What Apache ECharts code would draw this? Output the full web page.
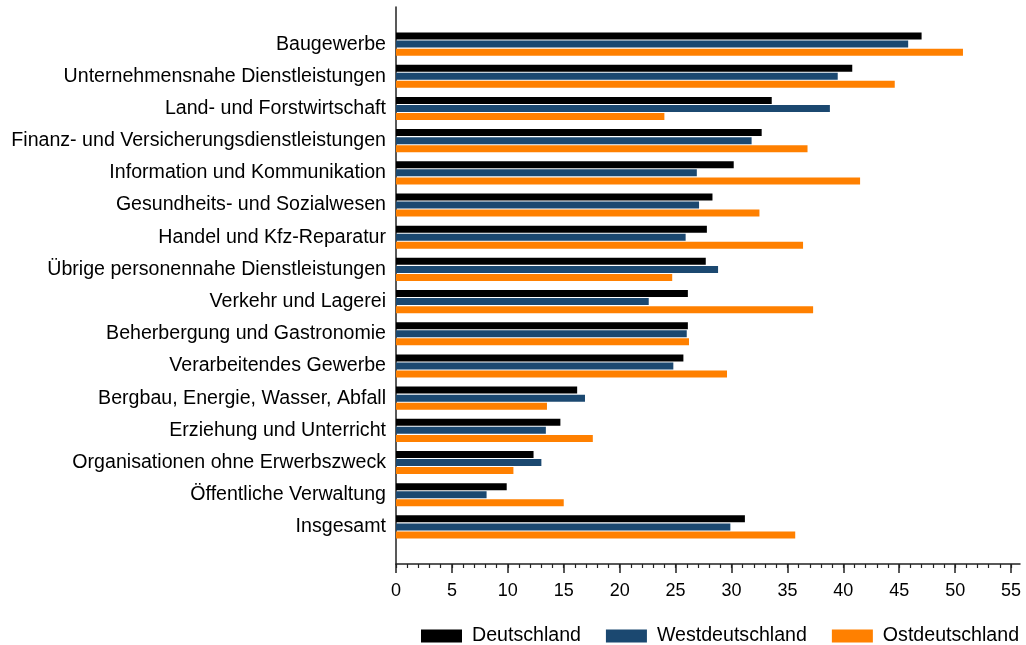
<!DOCTYPE html>
<html>
<head>
<meta charset="utf-8">
<script src="https://cdn.jsdelivr.net/npm/echarts@6/dist/echarts.min.js"></script>
<style>
  html, body { margin: 0; padding: 0; background: #fff; }
  #chart { width: 1026px; height: 645px; }
</style>
</head>
<body>
<div id="chart"></div>
<script>
// Branchen (von oben nach unten)
const categories = [
  'Baugewerbe',
  'Unternehmensnahe Dienstleistungen',
  'Land- und Forstwirtschaft',
  'Finanz- und Versicherungsdienstleistungen',
  'Information und Kommunikation',
  'Gesundheits- und Sozialwesen',
  'Handel und Kfz-Reparatur',
  'Übrige personennahe Dienstleistungen',
  'Verkehr und Lagerei',
  'Beherbergung und Gastronomie',
  'Verarbeitendes Gewerbe',
  'Bergbau, Energie, Wasser, Abfall',
  'Erziehung und Unterricht',
  'Organisationen ohne Erwerbszweck',
  'Öffentliche Verwaltung',
  'Insgesamt'
];

const deutschland =      [47.0, 40.8, 33.6, 32.7, 30.2, 28.3, 27.8, 27.7, 26.1, 26.1, 25.7, 16.2, 14.7, 12.3, 9.9, 31.2];
const westdeutschland =  [45.8, 39.5, 38.8, 31.8, 26.9, 27.1, 25.9, 28.8, 22.6, 26.0, 24.8, 16.9, 13.4, 13.0, 8.1, 29.9];
const ostdeutschland =   [50.7, 44.6, 24.0, 36.8, 41.5, 32.5, 36.4, 24.7, 37.3, 26.2, 29.6, 13.5, 17.6, 10.5, 15.0, 35.7];

const seriesNames = ['Deutschland', 'Westdeutschland', 'Ostdeutschland'];
const seriesColors = ['#000000', '#1b4870', '#ff8000'];

const tickValues = [0, 5, 10, 15, 20, 25, 30, 35, 40, 45, 50, 55];
const minorTickValues = [];
for (let v = 0; v <= 55; v++) minorTickValues.push(v);
const axisMax = 55.8;

const FONT = '"Liberation Sans", Arial, sans-serif';

const chart = echarts.init(document.getElementById('chart'), null, { renderer: 'canvas' });

const barSeries = [deutschland, westdeutschland, ostdeutschland].map((vals, i) => ({
  name: seriesNames[i],
  type: 'bar',
  xAxisIndex: 2,
  yAxisIndex: 1,
  data: vals,
  barWidth: 7,
  barGap: '15%',
  itemStyle: { color: seriesColors[i] },
  emphasis: { disabled: true },
  animation: false
}));

chart.setOption({
  animation: false,
  textStyle: { fontFamily: FONT },
  grid: [
    // frame: axis lines and ticks
    { left: 396, right: 6, top: 7, bottom: 81 },
    // bars and category labels
    { left: 396, right: 6, top: 28, bottom: 102 }
  ],
  legend: {
    data: seriesNames,
    left: 416,
    top: 621,
    itemWidth: 41,
    itemHeight: 13,
    itemGap: 25,
    icon: 'rect',
    textStyle: { fontFamily: FONT, fontSize: 19.6, color: '#000', padding: [0, 0, 0, 5] },
    selectedMode: false
  },
  xAxis: [
    {
      // major ticks with labels
      type: 'value', gridIndex: 0, min: 0, max: axisMax, position: 'bottom',
      axisLine: { show: true, lineStyle: { color: '#222', width: 1.5 } },
      axisTick: { show: true, length: 9, customValues: tickValues, lineStyle: { color: '#222', width: 1.5 } },
      axisLabel: { show: true, customValues: tickValues, fontSize: 18, color: '#000', margin: 18, fontFamily: FONT },
      splitLine: { show: false }
    },
    {
      // minor ticks every unit
      type: 'value', gridIndex: 0, min: 0, max: axisMax, position: 'bottom',
      axisLine: { show: false },
      axisTick: { show: true, length: 4, customValues: minorTickValues, lineStyle: { color: '#222', width: 1.2 } },
      axisLabel: { show: false },
      splitLine: { show: false }
    },
    {
      type: 'value', gridIndex: 1, min: 0, max: axisMax, show: false
    }
  ],
  yAxis: [
    {
      type: 'value', gridIndex: 0, min: 0, max: 1,
      axisLine: { show: true, lineStyle: { color: '#222', width: 1.5 } },
      axisTick: { show: false },
      axisLabel: { show: false },
      splitLine: { show: false }
    },
    {
      type: 'category', gridIndex: 1, data: categories, inverse: true,
      axisLine: { show: false },
      axisTick: { show: false },
      axisLabel: { fontSize: 19.6, color: '#000', margin: 10, fontFamily: FONT },
      splitLine: { show: false }
    }
  ],
  series: barSeries
});
</script>
</body>
</html>
